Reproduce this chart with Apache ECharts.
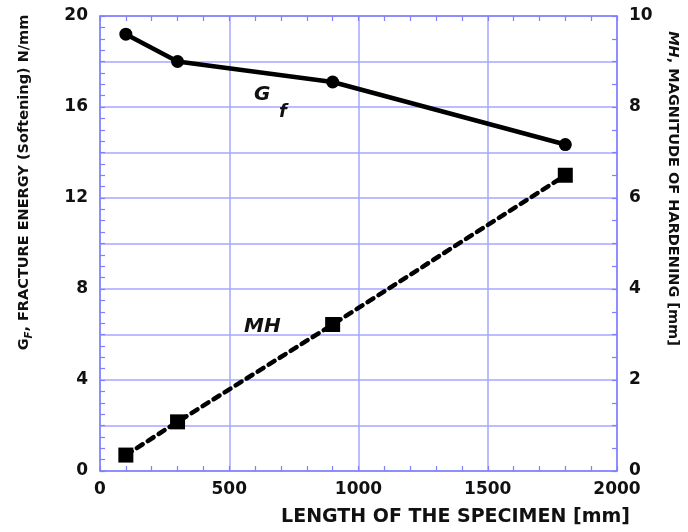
<!DOCTYPE html>
<html>
<head>
<meta charset="utf-8">
<script src="https://cdn.jsdelivr.net/npm/echarts@6/dist/echarts.min.js"></script>
<style>html,body{margin:0;padding:0;background:#fff}#c{width:688px;height:532px}</style>
</head>
<body>
<div id="c"></div>
<script>
const lengths = [100, 300, 900, 1800];
const gfValues = [19.2, 18.0, 17.1, 14.35];
const mhValues = [0.35, 1.08, 3.22, 6.5];
const xTicks = [0, 500, 1000, 1500, 2000];
const leftTicks = [0, 4, 8, 12, 16, 20];
const rightTicks = [0, 2, 4, 6, 8, 10];

const FONT = 'DejaVu Sans';
const AXIS_BLUE = '#7f7fff';
const GRID_BLUE = '#a6a6ff';

const chart = echarts.init(document.getElementById('c'), null, {renderer: 'canvas'});

const labelStyle = {color: '#111', fontFamily: FONT, fontWeight: 'bold', fontSize: 17};

const option = {
  animation: false,
  backgroundColor: '#fff',
  grid: {left: 100, right: 67, top: 16, bottom: 59, containLabel: false},
  xAxis: [{
    type: 'value', position: 'bottom',
    min: xTicks[0], max: xTicks[xTicks.length - 1], interval: 500,
    axisLine: {show: true, onZero: false, lineStyle: {color: AXIS_BLUE, width: 1.5}},
    axisTick: {show: true, inside: true, length: 5, lineStyle: {color: AXIS_BLUE, width: 1.2}},
    minorTick: {show: true, splitNumber: 5, length: 5, lineStyle: {color: AXIS_BLUE, width: 1.2}},
    splitLine: {show: true, lineStyle: {color: GRID_BLUE, width: 1.5}},
    axisLabel: Object.assign({margin: 10, formatter: v => String(v)}, labelStyle),
    name: 'LENGTH OF THE SPECIMEN [mm]', nameLocation: 'middle', nameGap: 37,
    nameTextStyle: {padding: [0, 0, 0, 194], color: '#111', fontFamily: FONT, fontWeight: 'bold', fontSize: 19}
  }, {
    type: 'value', position: 'top',
    min: xTicks[0], max: xTicks[xTicks.length - 1], interval: 500,
    axisLine: {show: true, onZero: false, lineStyle: {color: AXIS_BLUE, width: 1.5}},
    axisTick: {show: true, inside: true, length: 5, lineStyle: {color: AXIS_BLUE, width: 1.2}},
    minorTick: {show: true, splitNumber: 5, length: 5, lineStyle: {color: AXIS_BLUE, width: 1.2}},
    splitLine: {show: false},
    axisLabel: {show: false}
  }],
  yAxis: [{
    type: 'value', position: 'left',
    min: leftTicks[0], max: leftTicks[leftTicks.length - 1], interval: 4,
    axisLine: {show: true, onZero: false, lineStyle: {color: AXIS_BLUE, width: 1.5}},
    axisTick: {show: true, inside: true, length: 5, lineStyle: {color: AXIS_BLUE, width: 1.2}},
    minorTick: {show: true, splitNumber: 8, length: 5, lineStyle: {color: AXIS_BLUE, width: 1.2}},
    splitLine: {show: false},
    axisLabel: Object.assign({margin: 12}, labelStyle),
    name: '{a|G}{s|F}{a|, FRACTURE ENERGY (Softening) N/mm}',
    nameLocation: 'middle', nameRotate: 90, nameGap: 66,
    nameTextStyle: {
      padding: [0, 0, 0, 122],
      rich: {
        a: {color: '#111', fontFamily: FONT, fontWeight: 'bold', fontSize: 14.5, lineHeight: 20, verticalAlign: 'middle'},
        s: {color: '#111', fontFamily: FONT, fontWeight: 'bold', fontStyle: 'italic', fontSize: 10, lineHeight: 20, verticalAlign: 'bottom'}
      }
    }
  }, {
    type: 'value', position: 'right',
    min: rightTicks[0], max: rightTicks[rightTicks.length - 1], interval: 2,
    axisLine: {show: true, onZero: false, lineStyle: {color: AXIS_BLUE, width: 1.5}},
    axisTick: {show: true, inside: true, length: 5, lineStyle: {color: AXIS_BLUE, width: 1.2}},
    minorTick: {show: true, splitNumber: 4, length: 5, lineStyle: {color: AXIS_BLUE, width: 1.2}},
    splitLine: {show: false},
    axisLabel: Object.assign({margin: 12}, labelStyle),
    name: '{i|MH}{a|, MAGNITUDE OF HARDENING [mm]}',
    nameLocation: 'middle', nameRotate: -90, nameGap: 48,
    nameTextStyle: {
      padding: [0, 110, 0, 0],
      rich: {
        a: {color: '#111', fontFamily: FONT, fontWeight: 'bold', fontSize: 14.5},
        i: {color: '#111', fontFamily: FONT, fontWeight: 'bold', fontStyle: 'italic', fontSize: 14.5}
      }
    }
  }, {
    type: 'value', position: 'left', min: 0, max: 20, interval: 2,
    axisLine: {show: false}, axisTick: {show: false}, axisLabel: {show: false},
    splitLine: {show: true, lineStyle: {color: GRID_BLUE, width: 1.5}}
  }],
  graphic: [{
    type: 'text', left: 254, top: 85, z: 10,
    style: {
      text: '{g|G}\n{f|    f}',
      rich: {
        g: {fontFamily: FONT, fontWeight: 'bold', fontStyle: 'italic', fontSize: 20, fill: '#111', lineHeight: 18},
        f: {fontFamily: FONT, fontWeight: 'bold', fontStyle: 'italic', fontSize: 18, fill: '#111', lineHeight: 16}
      }
    }
  }, {
    type: 'text', left: 244, top: 317, z: 10,
    style: {text: 'MH', fontFamily: FONT, fontWeight: 'bold', fontStyle: 'italic', fontSize: 20, fill: '#111'}
  }],
  series: [{
    name: 'Gf', type: 'line', xAxisIndex: 0, yAxisIndex: 0,
    data: lengths.map((x, i) => [x, gfValues[i]]),
    symbol: 'circle', symbolSize: 13,
    itemStyle: {color: '#000'},
    lineStyle: {color: '#000', width: 4.5},
    z: 5
  }, {
    name: 'MH', type: 'line', xAxisIndex: 0, yAxisIndex: 1,
    data: lengths.map((x, i) => [x, mhValues[i]]),
    symbol: 'rect', symbolSize: 15,
    itemStyle: {color: '#000'},
    lineStyle: {color: '#000', width: 4.5, type: [7, 6], cap: 'round'},
    z: 5
  }]
};
chart.setOption(option);
</script>
</body>
</html>
